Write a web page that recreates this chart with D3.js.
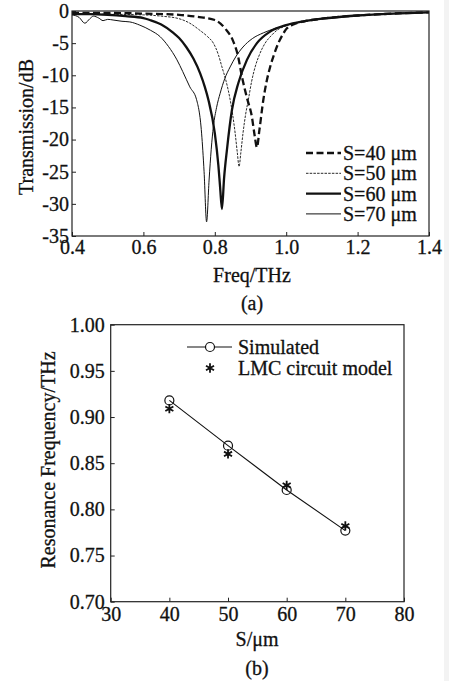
<!DOCTYPE html>
<html>
<head>
<meta charset="utf-8">
<script src="https://cdn.jsdelivr.net/npm/d3@7"></script>
<style>
  body { margin: 0; background: #fff; }
  svg { display: block; }
  svg text { font-family: "Liberation Serif", Tinos, "Times New Roman", Times, "DejaVu Serif", serif; fill: #111; stroke: #111; stroke-width: 0.3px; }
</style>
</head>
<body>
<div id="chart"></div>
<script>
// ---- panel (a): transmission spectra ----
var f40  = [0.40,0.50,0.60,0.70,0.75,0.80,0.83,0.85,0.865,0.876,0.89,0.904,0.912,0.918,0.925,0.936,0.945,0.955,0.967,0.978,0.99,1.002,1.02,1.05,1.10,1.15,1.20,1.30,1.40];
var t40  = [-0.3,-0.3,-0.4,-0.6,-0.9,-1.4,-2.8,-4.5,-7,-10.2,-13.5,-16.5,-19.5,-21.2,-18.5,-13.8,-11,-8.7,-6.6,-5,-3.7,-2.7,-2.1,-1.6,-1.2,-0.9,-0.7,-0.4,-0.2];
var f50  = [0.40,0.50,0.60,0.65,0.70,0.73,0.758,0.78,0.796,0.81,0.82,0.832,0.843,0.857,0.863,0.868,0.873,0.879,0.886,0.894,0.903,0.913,0.925,0.941,0.957,0.974,1.00,1.05,1.10,1.20,1.30,1.40];
var t50  = [-0.4,-0.5,-0.6,-0.8,-1.2,-1.9,-3,-4,-5,-6.8,-8.7,-11,-13.8,-19,-22,-24.2,-22,-19,-16.2,-13.8,-11,-8.7,-6.8,-5,-3.9,-3,-2.3,-1.6,-1.2,-0.7,-0.4,-0.2];
var f60  = [0.40,0.45,0.50,0.55,0.60,0.618,0.65,0.684,0.70,0.72,0.74,0.759,0.772,0.782,0.80,0.81,0.815,0.82,0.826,0.834,0.848,0.866,0.89,0.918,0.955,1.00,1.05,1.10,1.20,1.30,1.40];
var t60  = [-0.5,-0.5,-0.6,-0.8,-1.1,-1.4,-2.1,-3.4,-4.2,-5.6,-7.4,-9.7,-11.8,-13.8,-19,-24,-27.5,-30.8,-26,-21.6,-15.4,-11.2,-7.6,-5,-3.2,-2.2,-1.6,-1.2,-0.7,-0.4,-0.2];
var f70  = [0.40,0.42,0.436,0.45,0.46,0.475,0.487,0.50,0.515,0.54,0.562,0.59,0.62,0.647,0.67,0.694,0.71,0.73,0.749,0.763,0.77,0.777,0.784,0.79,0.796,0.805,0.815,0.828,0.843,0.86,0.879,0.905,0.936,0.97,1.00,1.05,1.10,1.20,1.30,1.40];
var t70  = [-0.6,-1.0,-1.9,-1.2,-0.8,-1.1,-1.5,-1.3,-1.4,-1.6,-1.7,-2.2,-3,-4,-5.5,-7.6,-9.4,-11.8,-13.8,-19,-25,-32.8,-26.3,-21.5,-18,-15,-12.8,-10.5,-8.7,-7,-5.6,-4.3,-3.4,-2.7,-2.2,-1.6,-1.2,-0.7,-0.4,-0.2];
var seriesNames = ["S=40 \u03bcm", "S=50 \u03bcm", "S=60 \u03bcm", "S=70 \u03bcm"];
var freqTicks = [0.4, 0.6, 0.8, 1.0, 1.2, 1.4];
var dbTicks   = [0, -5, -10, -15, -20, -25, -30, -35];

// ---- panel (b): resonance frequency vs S ----
var sValues   = [40, 50, 60, 70];
var simulated = [0.918, 0.869, 0.821, 0.777];
var lmcModel  = [0.909, 0.860, 0.826, 0.782];
var sTicks    = [30, 40, 50, 60, 70, 80];
var resTicks  = [0.70, 0.75, 0.80, 0.85, 0.90, 0.95, 1.00];

var W = 449, H = 681;
var ink = "#111";
var serif = "'Liberation Serif', Tinos, 'Times New Roman', Times, 'DejaVu Serif', serif";

var svg = d3.select("#chart").append("svg")
    .attr("width", W)
    .attr("height", H)
    .style("font-family", serif);

svg.append("rect").attr("width", W).attr("height", H).style("fill", "#fff");
// faint scan edge on the right
svg.append("rect").attr("x", 444).attr("y", 0).attr("width", 5).attr("height", H).style("fill", "#f3f3f3");

// ================= panel (a) =================
var xA = d3.scaleLinear().domain([0.4, 1.4]).range([72, 429]);
var yA = d3.scaleLinear().domain([-35, 0]).range([236, 11]);

var gA = svg.append("g");

gA.append("g")
    .attr("transform", "translate(0," + yA(-35) + ")")
    .call(d3.axisBottom(xA).tickValues(freqTicks).tickFormat(d3.format(".1f"))
        .tickSizeInner(-4).tickSizeOuter(0).tickPadding(4))
    .call(styleAxis);

gA.append("g")
    .attr("transform", "translate(" + xA(0.4) + ",0)")
    .call(d3.axisLeft(yA).tickValues(dbTicks).tickFormat(function(d){ return String(d); })
        .tickSizeInner(-4).tickSizeOuter(0).tickPadding(3))
    .call(styleAxis);

var specs = [
    {f: f40, t: t40, w: 2.3, dash: "7,3.5"},
    {f: f50, t: t50, w: 0.9, dash: "2.5,1.2"},
    {f: f60, t: t60, w: 2.3, dash: null},
    {f: f70, t: t70, w: 1.0, dash: null}
];

var lineA = d3.line()
    .x(function(d){ return xA(d[0]); })
    .y(function(d){ return yA(d[1]); })
    .curve(d3.curveMonotoneX);

specs.forEach(function(s){
    var pts = s.f.map(function(f, i){ return [f, s.t[i]]; });
    gA.append("path")
        .datum(pts)
        .attr("d", lineA)
        .style("fill", "none")
        .style("stroke", ink)
        .style("stroke-width", s.w)
        .style("stroke-dasharray", s.dash)
        .style("stroke-linejoin", "round");
});

// frame
gA.append("rect")
    .attr("x", xA(0.4)).attr("y", yA(0))
    .attr("width", xA(1.4) - xA(0.4)).attr("height", yA(-35) - yA(0))
    .style("fill", "none").style("stroke", "#222").style("stroke-width", 1.2);

// legend (a)
var legA = gA.append("g");
specs.forEach(function(s, i){
    var y = 153 + i * 20.3;
    legA.append("line")
        .attr("x1", 306).attr("x2", 341).attr("y1", y).attr("y2", y)
        .style("stroke", ink).style("stroke-width", s.w)
        .style("stroke-dasharray", s.dash);
    legA.append("text")
        .attr("x", 343).attr("y", y + 7)
        .style("font-size", "20px")
        .text(seriesNames[i]);
});

gA.append("text")
    .attr("transform", "translate(33," + 127 + ") rotate(-90)")
    .attr("text-anchor", "middle")
    .style("font-size", "20px")
    .text("Transmission/dB");

gA.append("text")
    .attr("x", 252).attr("y", 282)
    .attr("text-anchor", "middle")
    .style("font-size", "20px")
    .text("Freq/THz");

gA.append("text")
    .attr("x", 252).attr("y", 310)
    .attr("text-anchor", "middle")
    .style("font-size", "20px")
    .text("(a)");

// ================= panel (b) =================
var xB = d3.scaleLinear().domain([30, 80]).range([110.7, 404]);
var yB = d3.scaleLinear().domain([0.70, 1.00]).range([601.7, 324.7]);

var gB = svg.append("g");

gB.append("g")
    .attr("transform", "translate(0," + yB(0.70) + ")")
    .call(d3.axisBottom(xB).tickValues(sTicks).tickFormat(d3.format("d"))
        .tickSizeInner(-4).tickSizeOuter(0).tickPadding(5))
    .call(styleAxis);

gB.append("g")
    .attr("transform", "translate(" + xB(30) + ",0)")
    .call(d3.axisLeft(yB).tickValues(resTicks).tickFormat(d3.format(".2f"))
        .tickSizeInner(-4).tickSizeOuter(0).tickPadding(6))
    .call(styleAxis);

var simPts = sValues.map(function(s, i){ return [s, simulated[i]]; });
var lmcPts = sValues.map(function(s, i){ return [s, lmcModel[i]]; });

gB.append("path")
    .datum(simPts)
    .attr("d", d3.line().x(function(d){ return xB(d[0]); }).y(function(d){ return yB(d[1]); }))
    .style("fill", "none").style("stroke", ink).style("stroke-width", 1.1);

gB.selectAll(".sim").data(simPts).enter().append("circle")
    .attr("cx", function(d){ return xB(d[0]); })
    .attr("cy", function(d){ return yB(d[1]); })
    .attr("r", 4.5)
    .style("fill", "none").style("stroke", ink).style("stroke-width", 1.2);

var star = d3.symbol().type(d3.symbolAsterisk).size(60);
gB.selectAll(".lmc").data(lmcPts).enter().append("path")
    .attr("d", star)
    .attr("transform", function(d){ return "translate(" + xB(d[0]) + "," + yB(d[1]) + ")"; })
    .style("fill", "none").style("stroke", ink).style("stroke-width", 1.8);

gB.append("rect")
    .attr("x", xB(30)).attr("y", yB(1.0))
    .attr("width", xB(80) - xB(30)).attr("height", yB(0.70) - yB(1.0))
    .style("fill", "none").style("stroke", "#222").style("stroke-width", 1.2);

// legend (b)
gB.append("line").attr("x1", 187).attr("x2", 232).attr("y1", 347).attr("y2", 347)
    .style("stroke", ink).style("stroke-width", 1.1);
gB.append("circle").attr("cx", 210).attr("cy", 347).attr("r", 4.5)
    .style("fill", "#fff").style("stroke", ink).style("stroke-width", 1.2);
gB.append("text").attr("x", 238).attr("y", 354).style("font-size", "20px").text("Simulated");
gB.append("path").attr("d", star).attr("transform", "translate(210,368)")
    .style("fill", "none").style("stroke", ink).style("stroke-width", 1.8);
gB.append("text").attr("x", 238).attr("y", 375).style("font-size", "20px").text("LMC circuit model");

gB.append("text")
    .attr("transform", "translate(55," + 460 + ") rotate(-90)")
    .attr("text-anchor", "middle")
    .style("font-size", "20px")
    .text("Resonance Frequency/THz");

gB.append("text")
    .attr("x", 257).attr("y", 646)
    .attr("text-anchor", "middle")
    .style("font-size", "20px")
    .text("S/\u03bcm");

gB.append("text")
    .attr("x", 257).attr("y", 675)
    .attr("text-anchor", "middle")
    .style("font-size", "20px")
    .text("(b)");

function styleAxis(g) {
    g.attr("font-family", null);
    g.select(".domain").remove();
    g.selectAll(".tick line").style("stroke", "#222").style("stroke-width", 1);
    g.selectAll(".tick text")
        .style("font-family", serif)
        .style("font-size", "20px")
        .style("fill", ink);
}
</script>
</body>
</html>
